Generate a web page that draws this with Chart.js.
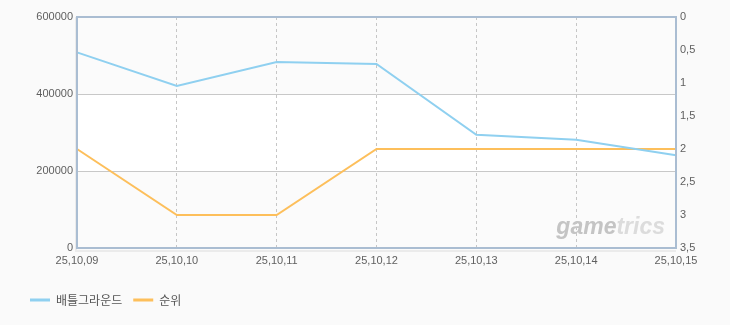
<!DOCTYPE html>
<html>
<head>
<meta charset="utf-8">
<script src="https://cdn.jsdelivr.net/npm/chart.js@4.4.1/dist/chart.umd.min.js"></script>
<style>
  html, body { margin: 0; padding: 0; background: #fafafa; }
  #wrap { width: 730px; height: 325px; position: relative; }
</style>
</head>
<body>
<div id="wrap"><canvas id="chart"></canvas></div>
<script>
// data
const dates = ["25,10,09", "25,10,10", "25,10,11", "25,10,12", "25,10,13", "25,10,14", "25,10,15"];
const players = [508000, 421000, 483000, 478000, 294000, 281000, 241000];
const ranks = [2, 3, 3, 2, 2, 2, 2];
const rankTicks = ["0", "0,5", "1", "1,5", "2", "2,5", "3", "3,5"];
const seriesNames = ["배틀그라운드", "순위"];

const FONT = "'Liberation Sans', Arial, sans-serif";
const TICK_COLOR = "#5f5f5f";

// bands + frame + watermark
const chartDeco = {
  id: "chartDeco",
  beforeDraw(chart) {
    const { ctx, chartArea: a, scales } = chart;
    const y = scales.y;
    ctx.save();
    const bands = [[400000, 600000, "#fbfbfb"], [200000, 400000, "#ffffff"], [0, 200000, "#fbfbfb"]];
    bands.forEach(([lo, hi, c]) => {
      const top = y.getPixelForValue(hi);
      const bot = y.getPixelForValue(lo);
      ctx.fillStyle = c;
      ctx.fillRect(a.left, top, a.right - a.left, bot - top);
    });
    // watermark
    ctx.translate(a.right - 11, a.bottom - 14);
    ctx.font = "italic bold 23px " + FONT;
    ctx.textAlign = "left";
    ctx.textBaseline = "alphabetic";
    const w1 = ctx.measureText("game").width;
    const w2 = ctx.measureText("trics").width;
    const x0 = -(w1 + w2);
    ctx.fillStyle = "#c4c4c4";
    ctx.fillText("game", x0, 0);
    ctx.fillStyle = "#dcdcdc";
    ctx.fillText("trics", x0 + w1, 0);
    ctx.restore();
  },
  afterDraw(chart) {
    const { ctx, chartArea: a } = chart;
    ctx.save();
    // soft shadow on left / bottom
    ctx.strokeStyle = "rgba(0,0,0,0.06)";
    ctx.lineWidth = 2;
    ctx.beginPath();
    ctx.moveTo(a.left - 1, a.top);
    ctx.lineTo(a.left - 1, a.bottom + 3);
    ctx.lineTo(a.right, a.bottom + 3);
    ctx.stroke();
    ctx.strokeStyle = "#aabdd2";
    ctx.lineWidth = 2;
    ctx.strokeRect(a.left, a.top, a.right - a.left, a.bottom - a.top);
    ctx.restore();
  }
};

const ctx = document.getElementById("chart").getContext("2d");
new Chart(ctx, {
  type: "line",
  data: {
    labels: dates,
    datasets: [
      {
        label: seriesNames[0],
        data: players,
        yAxisID: "y",
        borderColor: "#8fd0f0",
        backgroundColor: "#8fd0f0",
        borderWidth: 2,
        pointRadius: 0,
        tension: 0,
      },
      {
        label: seriesNames[1],
        data: ranks,
        yAxisID: "y2",
        borderColor: "#fdbf5b",
        backgroundColor: "#fdbf5b",
        borderWidth: 2,
        pointRadius: 0,
        tension: 0,
      },
    ],
  },
  options: {
    responsive: true,
    maintainAspectRatio: false,
    animation: false,
    layout: { padding: { top: 17, left: 19, right: 0, bottom: 9 } },
    plugins: {
      tooltip: { enabled: false },
      legend: {
        position: "bottom",
        align: "start",
        labels: {
          boxWidth: 20,
          boxHeight: 3,
          padding: 11,
          color: "#555",
          font: { family: "'Noto Sans CJK KR', " + FONT, size: 12 },
          generateLabels(chart) {
            const items = Chart.defaults.plugins.legend.labels.generateLabels(chart);
            items.forEach((it) => { it.lineWidth = 0; });
            return items;
          },
        },
      },
    },
    scales: {
      x: {
        offset: false,
        grid: { color: "#c6c6c6", drawTicks: false, lineWidth: 1 },
        border: { display: false, dash: [3, 3] },
        ticks: { color: TICK_COLOR, font: { family: FONT, size: 11 }, padding: 6, maxRotation: 0, autoSkip: false },
        afterFit(scale) { scale.height = 35; },
      },
      y: {
        position: "left",
        min: 0,
        max: 600000,
        grid: { color: "#c8c8c8", drawTicks: false },
        border: { display: false },
        ticks: {
          stepSize: 200000,
          color: TICK_COLOR,
          font: { family: FONT, size: 11 },
          padding: 4,
          callback: (v) => String(v),
        },
        afterFit(scale) { scale.width = 58; },
      },
      y2: {
        position: "right",
        reverse: true,
        min: 0,
        max: 3.5,
        grid: { display: false, drawTicks: false },
        border: { display: false },
        ticks: {
          stepSize: 0.5,
          color: TICK_COLOR,
          font: { family: FONT, size: 11 },
          padding: 4,
          callback: (v) => rankTicks[Math.round(v * 2)],
        },
        afterFit(scale) { scale.width = 54; },
      },
    },
  },
  plugins: [chartDeco],
});
</script>
</body>
</html>
